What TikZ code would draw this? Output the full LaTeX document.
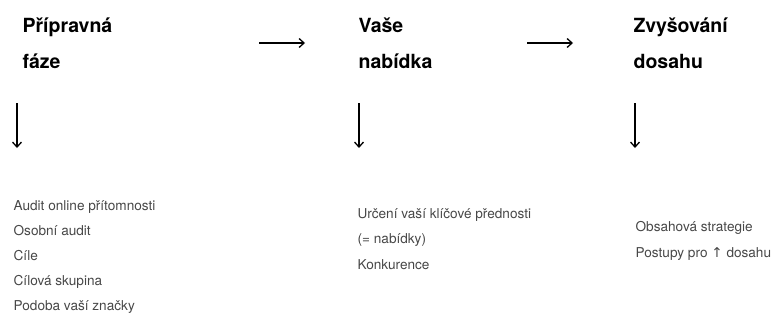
\documentclass[tikz,border=0pt]{standalone}
\usepackage{fontspec}
\setmainfont{TeX Gyre Heros}
\newfontfamily\arrowfont{DejaVu Sans}
\usetikzlibrary{arrows.meta}

\begin{document}
\begin{tikzpicture}[x=1pt,y=-1pt,->,>={Straight Barb[length=5pt,width=9pt]},
    line width=1.3pt,
    head/.style={anchor=base west,inner sep=0pt,font=\fontsize{19.5}{23}\selectfont\bfseries},
    item/.style={anchor=base west,inner sep=0pt,text=black!72,font=\fontsize{13.6}{16}\selectfont}]
\useasboundingbox (0,0) rectangle (775,321);

% headings
\node[head] (1a) at (22,33) {Přípravná};
\node[head] (1b) at (22,68) {fáze};
\node[head] (2a) at (358,33) {Vaše};
\node[head] (2b) at (358,68) {nabídka};
\node[head] (3a) at (633,33) {Zvyšování};
\node[head] (3b) at (633,68) {dosahu};

% items
\foreach \t [count=\i] in {Audit online přítomnosti,Osobní audit,Cíle,Cílová skupina,Podoba vaší značky}
  \node[item] (a\i) at (13,{210+25*(\i-1)}) {\t};
\foreach \t [count=\i] in {Určení vaší klíčové přednosti,(= nabídky),Konkurence}
  \node[item] (b\i) at (357,{218+25.5*(\i-1)}) {\t};
\foreach \t [count=\i] in {Obsahová strategie,{Postupy pro {\arrowfont ↑} dosahu}}
  \node[item] (c\i) at (635,{231+26*(\i-1)}) {\t};

% arrows
\coordinate (r1s) at (259,43);
\coordinate (r1e) at (305,43);
\coordinate (r2s) at (527,43);
\coordinate (r2e) at (573,43);
\coordinate (d1s) at (17,103);
\coordinate (d1e) at (17,148);
\coordinate (d2s) at (359,103);
\coordinate (d2e) at (359,148);
\coordinate (d3s) at (635,103);
\coordinate (d3e) at (635,148);

\path
(r1s) edge (r1e)
(r2s) edge (r2e)
(d1s) edge (d1e)
(d2s) edge (d2e)
(d3s) edge (d3e)
;

\end{tikzpicture}
\end{document}
